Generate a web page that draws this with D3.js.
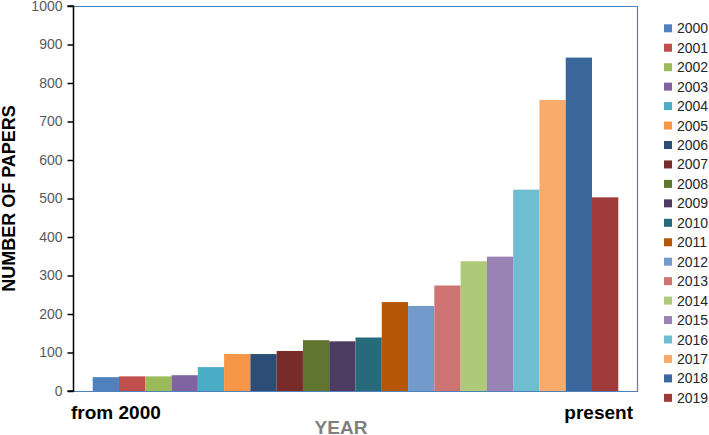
<!DOCTYPE html>
<html><head><meta charset="utf-8">
<script src="https://cdn.jsdelivr.net/npm/d3@7"></script>
<style>body{margin:0;background:#fff;} svg{display:block;}</style>
</head><body>
<svg id="c" width="709" height="435"></svg>
<script>
const years = ["2000","2001","2002","2003","2004","2005","2006","2007","2008","2009","2010","2011","2012","2013","2014","2015","2016","2017","2018","2019"];
const papers = [36,38,38,41,62,96,96,104,132,129,139,231,221,274,337,349,523,756,866,503];
const colors = ["#4F81BD","#C0504D","#9BBB59","#8064A2","#4BACC6","#F79646","#2C4D75","#772C2A","#5F7530","#4D3B62","#276A7C","#B65708","#729ACA","#CD7371","#AFC97A","#9983B5","#6FBDD1","#F9AB6B","#3A679C","#9F3B38"];
const yTicks = [0,100,200,300,400,500,600,700,800,900,1000];

const svg = d3.select("#c");
const L = 73, R = 638, T = 6, B = 391;
const x = d3.scaleBand().domain(years).range([L, R]).paddingInner(0).paddingOuter(0.75);
const y = d3.scaleLinear().domain([0, 1000]).range([B, T]);
const color = d3.scaleOrdinal().domain(years).range(colors);
const font = "'Liberation Sans', Arial, sans-serif";

// bars
svg.append("g").selectAll("rect").data(years).join("rect")
  .attr("x", d => x(d)).attr("width", x.bandwidth())
  .attr("y", (d,i) => y(papers[i])).attr("height", (d,i) => B - y(papers[i]))
  .attr("fill", d => color(d));

// plot border (blue)
svg.append("path")
  .attr("d", `M${L},${T+0.5}H${R-0.5}V${B+0.5}H${L}`)
  .attr("fill","none").attr("stroke","#4F81BD").attr("stroke-width",1.2);

// y axis
const ya = svg.append("g").attr("transform", `translate(${L+0.5},0)`)
  .call(d3.axisLeft(y).tickValues(yTicks).tickSize(6).tickPadding(5).tickFormat(d3.format("d")));
ya.select(".domain").attr("stroke","#000").attr("stroke-width",1.5).attr("d", `M-6,${T}H0V${B}H-6`);
ya.selectAll(".tick line").attr("stroke","#000").attr("stroke-width",1.5);
ya.selectAll(".tick text").attr("fill","#595959").style("font-family", font).style("font-size","14px");

// y title
svg.append("text")
  .attr("transform", `translate(15,${(T+B)/2}) rotate(-90)`)
  .attr("text-anchor","middle")
  .style("font-family", font).style("font-size","18px").style("font-weight","bold")
  .attr("fill","#000").text("NUMBER OF PAPERS");

// x labels
svg.append("text").attr("x", 71).attr("y", 419)
  .style("font-family", font).style("font-size","19px").style("font-weight","bold")
  .attr("fill","#000").text("from 2000");
svg.append("text").attr("x", 633).attr("y", 419).attr("text-anchor","end")
  .style("font-family", font).style("font-size","19px").style("font-weight","bold")
  .attr("fill","#000").text("present");
svg.append("text").attr("x", 341).attr("y", 434).attr("text-anchor","middle")
  .style("font-family", font).style("font-size","19px").style("font-weight","bold")
  .attr("fill","#7F7F7F").text("YEAR");

// legend
const lg = svg.append("g");
const items = lg.selectAll("g").data(years).join("g")
  .attr("transform", (d,i) => `translate(664,${28.3 + i*19.45})`);
items.append("rect").attr("x",0).attr("y",-4).attr("width",8).attr("height",8).attr("fill", d => color(d));
items.append("text").attr("x",13).attr("y",0).attr("dy","0.36em")
  .style("font-family", font).style("font-size","14px").attr("fill","#262626").text(d => d);
</script>
</body></html>
